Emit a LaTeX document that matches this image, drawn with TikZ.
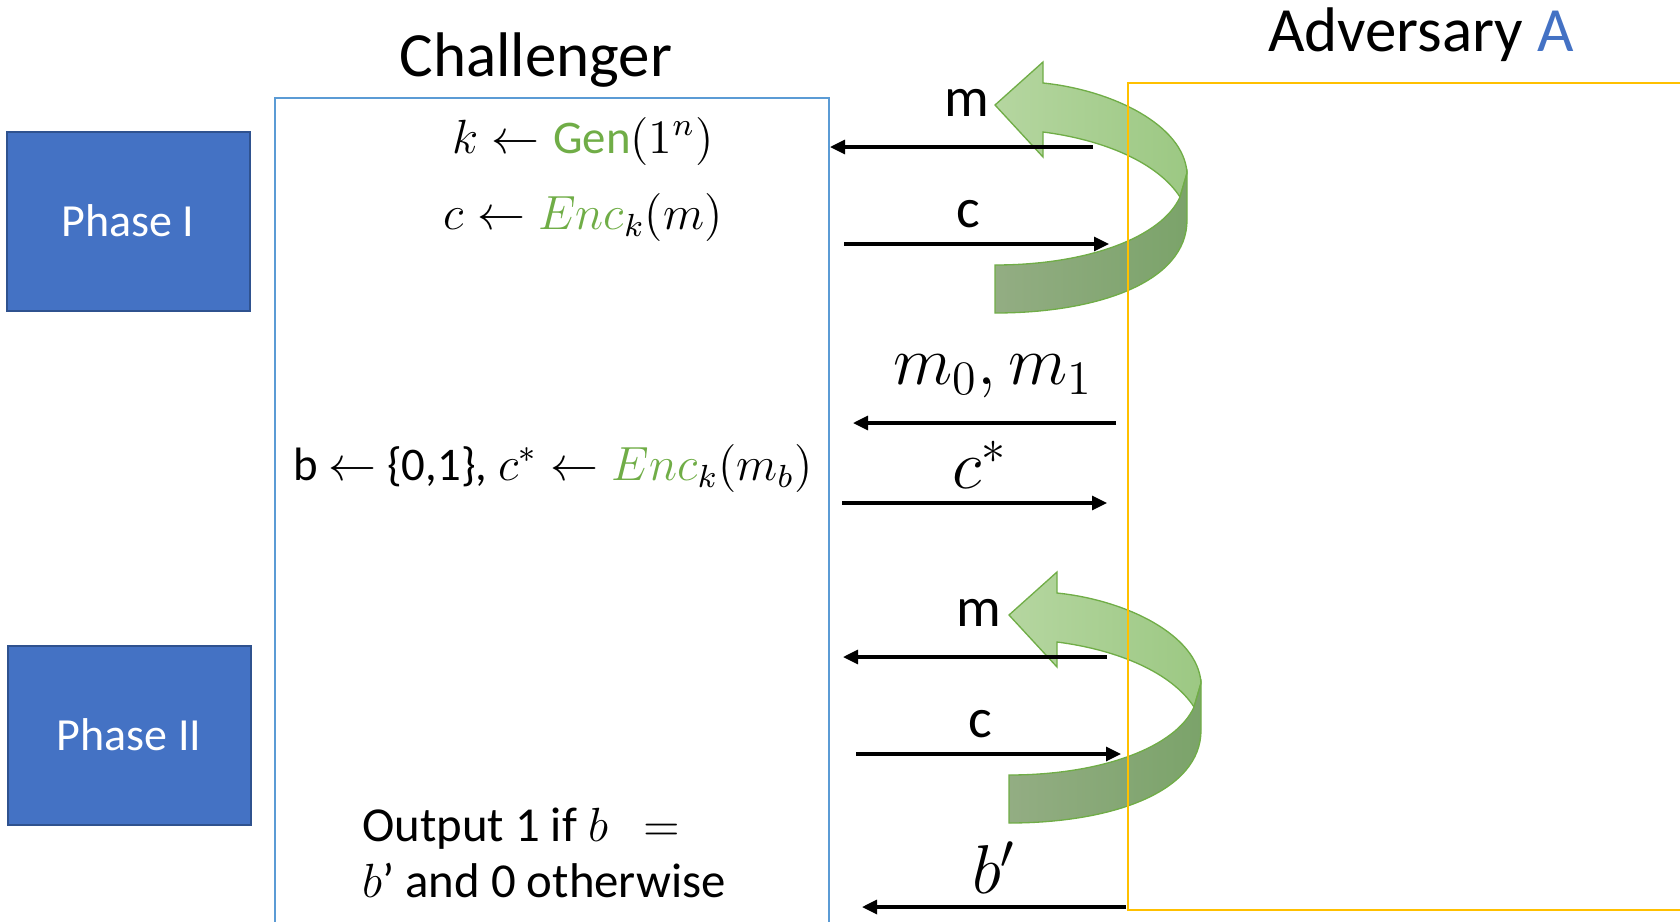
\documentclass[tikz,border=0pt]{standalone}
\usepackage{fontspec}
\setmainfont{Carlito}
\usetikzlibrary{arrows.meta}
\definecolor{pblue}{HTML}{4472C4}
\definecolor{pblueb}{HTML}{2F528F}
\definecolor{chb}{HTML}{5B9BD5}
\definecolor{advy}{HTML}{FFC000}
\definecolor{ggreen}{HTML}{70AD47}
\definecolor{gl1}{HTML}{B5D6A0}
\definecolor{gl2}{HTML}{9CC883}
\definecolor{gd1}{HTML}{93AD83}
\definecolor{gd2}{HTML}{7BA36A}
\newcommand{\fsz}[1]{\fontsize{#1}{#1}\selectfont}
\tikzset{
  phasebox/.style={draw=pblueb, line width=0.5pt, fill=pblue, text=white, minimum width=60.75pt, minimum height=44.75pt, inner sep=0pt, font=\fsz{11.5}},
  msgarrow/.style={line width=0.8pt, -{Triangle[length=3.75pt,width=3.5pt]}},
  bandup/.style={draw=ggreen, line width=0.33pt, left color=gl1, right color=gl2},
  banddown/.style={draw=ggreen, line width=0.33pt, left color=gd1, right color=gd2},
  title/.style={font=\fsz{15.75}, inner sep=0pt},
  body/.style={font=\fsz{11.7}, inner sep=0pt},
  lbl/.style={font=\fsz{14}, inner sep=0pt},
  mlbl/.style={font=\fsz{16.5}, inner sep=0pt}
}
\newcommand{\curvedarrow}[1]{%
  \begin{scope}[shift={#1}]
    \path[bandup] (1043,83) .. controls (1112,90) and (1184,125) .. (1187,173)
      -- (1180,197) .. controls (1158,163) and (1105,140) .. (1043,132)
      -- (1043,157) -- (995,105) -- (1043,62) -- cycle;
    \path[banddown] (1187,173) -- (1187,220) .. controls (1187,282) and (1098,313) .. (995,313)
      -- (995,265) .. controls (1088,265) and (1162,237) .. (1180,197) -- cycle;
  \end{scope}}
\begin{document}
\begin{tikzpicture}[x=0.25pt,y=-0.25pt]
\useasboundingbox (0,0) rectangle (1680,921);
% curved arrows (behind)
\curvedarrow{(0,0)}
\curvedarrow{(14,510)}
% phase boxes
\node[phasebox] (p1) at (128,221) {Phase I};
\node[phasebox] (p2) at (129,735) {Phase II};
% challenger box
\draw[chb, line width=0.5pt] (275,925) -- (275,98) -- (829,98) -- (829,925);
\node[title] (chal) at (536,60) {Challenger};
% adversary box
\draw[advy, line width=0.6pt] (1690,83) -- (1128,83) -- (1128,910) -- (1690,910);
\node[title] (adv) at (1421,35) {Adversary \textcolor{pblue}{A}};
% challenger texts
\node[body] (gen) at (583,141) {$k \leftarrow \textcolor{ggreen}{\mbox{Gen}}(1^{n})$};
\node[body] (enc) at (583,217) {$c \leftarrow \textcolor{ggreen}{Enc}_{k}(m)$};
\node[body] (chl) at (553,468) {b $\leftarrow$ \{0,1\}, $c^{*} \leftarrow \textcolor{ggreen}{Enc}_{k}(m_{b})$};
\node[body, align=left, font=\fontsize{12.2}{14}\selectfont] (out) at (544,853) {Output 1 if $b\ \ =$\\ $b$’ and 0 otherwise};
% endpoints
\coordinate (a1s) at (1093,147); \coordinate (a1e) at (830,147);
\coordinate (a2s) at (844,244); \coordinate (a2e) at (1109,244);
\coordinate (a3s) at (1116,423); \coordinate (a3e) at (853,423);
\coordinate (a4s) at (842,503); \coordinate (a4e) at (1107,503);
\coordinate (a5s) at (1107,657); \coordinate (a5e) at (843,657);
\coordinate (a6s) at (856,754); \coordinate (a6e) at (1121,754);
\coordinate (a7s) at (1126,907); \coordinate (a7e) at (862,907);
\draw[msgarrow] (a1s) -- (a1e);
\draw[msgarrow] (a2s) -- (a2e);
\draw[msgarrow] (a3s) -- (a3e);
\draw[msgarrow] (a4s) -- (a4e);
\draw[msgarrow] (a5s) -- (a5e);
\draw[msgarrow] (a6s) -- (a6e);
\draw[msgarrow] (a7s) -- (a7e);
% arrow labels
\node[lbl] (l1) at (967,103) {m};
\node[lbl] (l2) at (968,214) {c};
\node[mlbl] (l3) at (993,376) {$m_0, m_1$};
\node[mlbl] (l4) at (980,465) {$c^{*}$};
\node[lbl] (l5) at (979,613) {m};
\node[lbl] (l6) at (980,724) {c};
\node[mlbl] (l7) at (994,868) {$b'$};
\end{tikzpicture}
\end{document}
